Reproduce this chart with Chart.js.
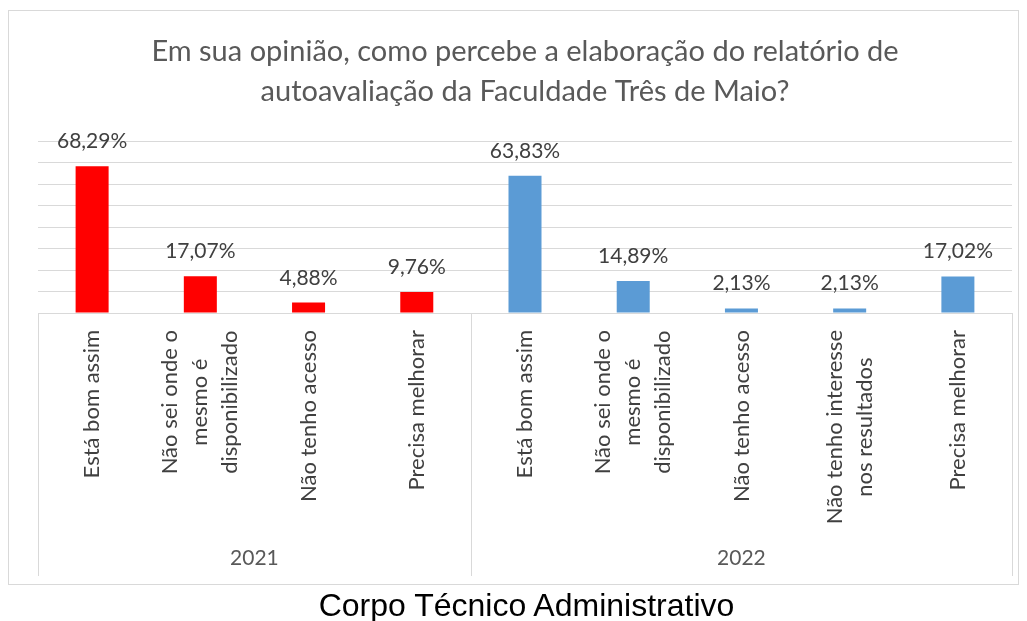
<!DOCTYPE html>
<html>
<head>
<meta charset="utf-8">
<script src="https://cdn.jsdelivr.net/npm/chart.js@4"></script>
<style>
  body { margin: 0; background: #fff; }
  #wrap { position: relative; width: 1027px; height: 621px; overflow: hidden; }
  #caption { position: absolute; left: 13px; top: 588px; width: 1027px; text-align: center;
             font-family: "Liberation Sans", Arial, sans-serif; font-size: 32px; color: #000; line-height: 34px; }
</style>
</head>
<body>
<div id="wrap">
  <canvas id="chart" width="1027" height="589"></canvas>
  <div id="caption">Corpo Técnico Administrativo</div>
</div>
<script>
// dados
var years = ['2021', '2022'];
var categories2021 = ['Está bom assim', ['Não sei onde o', 'mesmo é', 'disponibilizado'], 'Não tenho acesso', 'Precisa melhorar'];
var values2021 = [68.29, 17.07, 4.88, 9.76];
var categories2022 = ['Está bom assim', ['Não sei onde o', 'mesmo é', 'disponibilizado'], 'Não tenho acesso', ['Não tenho interesse', 'nos resultados'], 'Precisa melhorar'];
var values2022 = [63.83, 14.89, 2.13, 2.13, 17.02];
var yMax = 80, yStep = 10;
var colors = ['#ff0000', '#5b9bd5'];

var labels = categories2021.concat(categories2022);
var values = values2021.concat(values2022);
var barColors = [];
values2021.forEach(function () { barColors.push(colors[0]); });
values2022.forEach(function () { barColors.push(colors[1]); });
var groupSizes = [values2021.length, values2022.length];

var FONT = 'Lato, "Open Sans", sans-serif';

function fmt(v) {
  return v.toFixed(2).replace('.', ',') + '%';
}

var excelPlugin = {
  id: 'excelPlugin',
  beforeDraw: function (chart) {
    var ctx = chart.ctx;
    ctx.save();
    ctx.strokeStyle = '#d9d9d9';
    ctx.lineWidth = 1;
    ctx.strokeRect(8.5, 10.5, 1010, 574);
    ctx.restore();
  },
  afterDraw: function (chart) {
    var ctx = chart.ctx;
    var xs = chart.scales.x, ys = chart.scales.y;
    var area = chart.chartArea;
    var boxBottom = 576;
    ctx.save();

    // caixa das categorias
    ctx.strokeStyle = '#d9d9d9';
    ctx.lineWidth = 1;
    var start = 0;
    var bounds = [0];
    groupSizes.forEach(function (n) { start += n; bounds.push(start); });
    bounds.forEach(function (b) {
      var x = Math.round(xs.getPixelForValue(b - 0.5)) + 0.5;
      ctx.beginPath();
      ctx.moveTo(x, area.bottom);
      ctx.lineTo(x, boxBottom);
      ctx.stroke();
    });

    // rótulos de valor
    ctx.fillStyle = '#404040';
    ctx.font = '21px ' + FONT;
    ctx.textAlign = 'center';
    ctx.textBaseline = 'alphabetic';
    values.forEach(function (v, i) {
      ctx.fillText(fmt(v), xs.getPixelForValue(i), ys.getPixelForValue(v) - 18);
    });

    // rótulos das categorias (verticais)
    ctx.font = '22px ' + FONT;
    ctx.fillStyle = '#404040';
    labels.forEach(function (lab, i) {
      var lines = Array.isArray(lab) ? lab : [lab];
      var maxW = 0;
      lines.forEach(function (l) { maxW = Math.max(maxW, ctx.measureText(l).width); });
      var cx = xs.getPixelForValue(i);
      var cy = 330 + maxW / 2;
      lines.forEach(function (l, j) {
        ctx.save();
        ctx.translate(cx + (j - (lines.length - 1) / 2) * 30, cy);
        ctx.rotate(-Math.PI / 2);
        ctx.textAlign = 'center';
        ctx.textBaseline = 'middle';
        ctx.fillText(l, 0, 0);
        ctx.restore();
      });
    });

    // anos
    ctx.font = '21px ' + FONT;
    ctx.fillStyle = '#595959';
    ctx.textAlign = 'center';
    ctx.textBaseline = 'middle';
    years.forEach(function (y, g) {
      var x0 = xs.getPixelForValue(bounds[g] - 0.5);
      var x1 = xs.getPixelForValue(bounds[g + 1] - 0.5);
      ctx.fillText(y, (x0 + x1) / 2, 558);
    });
    ctx.restore();
  }
};

var ctx = document.getElementById('chart').getContext('2d');
var myChart = new Chart(ctx, {
  type: 'bar',
  data: {
    labels: labels,
    datasets: [{
      data: values,
      backgroundColor: barColors,
      borderWidth: 0,
      categoryPercentage: 1,
      barPercentage: 0.305
    }]
  },
  options: {
    responsive: false,
    animation: false,
    layout: { padding: { left: 38, right: 15, top: 0, bottom: 268 } },
    plugins: {
      legend: { display: false },
      tooltip: { enabled: false },
      title: {
        display: true,
        text: ['Em sua opinião, como percebe a elaboração do relatório de', 'autoavaliação da Faculdade Três de Maio?'],
        color: '#595959',
        font: { family: FONT, size: 29, weight: 'normal', lineHeight: 1.38 },
        padding: { top: 32, bottom: 29 }
      }
    },
    scales: {
      x: {
        grid: { display: false },
        border: { display: false },
        ticks: { display: false }
      },
      y: {
        min: 0,
        max: yMax,
        ticks: { display: false, stepSize: yStep },
        grid: { color: '#d9d9d9', drawTicks: false },
        border: { display: false }
      }
    }
  },
  plugins: [excelPlugin]
});
</script>
</body>
</html>
